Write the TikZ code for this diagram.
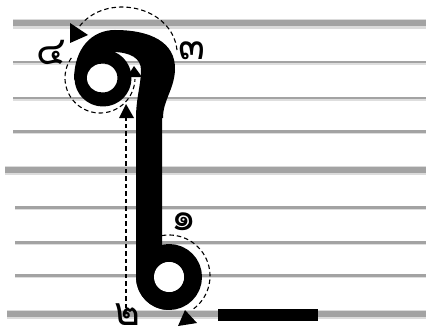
\documentclass[tikz,border=0pt]{standalone}
\usepackage{fontspec}
\newfontfamily\thaifont[Script=Thai]{Loma}
\usetikzlibrary{calc}

\begin{document}
\begin{tikzpicture}[x=1mm, y=-1mm, line join=round,
  guide/.style={line width=1.1mm, dash pattern=on 4.5mm off 3mm},
  tipmark/.style={fill=black},
  numlabel/.style={font=\thaifont\fontsize{112}{112}\selectfont, inner sep=0pt, text depth=0pt, anchor=base}]
 \useasboundingbox[fill=white] (0,0) rectangle (426,331);
 % Ruled lines
 \foreach \y/\xs in {62/13, 98/13, 131.5/13, 207.5/15, 242.5/15, 275.5/15} {
  \draw[line width=4mm, black!13] (\xs,\y+0.8) -- (426,\y+0.8);
  \draw[line width=2.2mm, black!36] (\xs,\y) -- (426,\y);
 }
 \foreach \y/\xs in {23/13, 169.5/5, 313.5/7} {
  \draw[line width=9.5mm, black!14] (\xs,\y+1) -- (426,\y+1);
  \draw[line width=6mm, black!36] (\xs,\y) -- (426,\y);
 }
 % Guide strokes
 \def\r{41}
 \draw[guide] plot[domain=-100:55, samples=80, variable=\t] ({169+\r*cos(\t)}, {276+\r*sin(\t)});
 \coordinate (s2a) at (126,308);
 \coordinate (s2b) at (126,118);
 \draw[guide] (s2a) -- (s2b);
 \draw[guide] plot[domain=145:358, samples=80, variable=\t] ({100+35*cos(\t)}, {78-35*sin(\t)});
 \draw[guide] (177,50) .. controls (172,5) and (105,-8) .. (79,27);
 % Letter
 \fill (74,80) .. controls (74,48) and (92,30) .. (115,30)
  .. controls (150,30) and (176,42) .. (175,70)
  .. controls (174,90) and (163,100) .. (163,118) -- (136,118)
  .. controls (136,98) and (141,85) .. (141,70)
  .. controls (141,58) and (130,52) .. (112,52) -- cycle;
 \draw[line width=14mm] (103,78) circle (21.5);
 \draw[line width=26mm] (149,115) -- (149,277) .. controls (149,288) and (158,297) .. (169,297);
 \draw[line width=18mm] (169,277) circle (24);
 \fill[white] (101,78) circle (14);
 \fill[white] (169,277) circle (15);
 % Base bar
 \fill (218,309) rectangle (318,321);
 % Arrow heads
 \fill[tipmark] (134,66) -- (127,77) -- (142,77) -- cycle;
 \fill[tipmark] (126,104) -- (119,118) -- (134,118) -- cycle;
 \fill[tipmark] (70,23) -- (70,43) -- (88,35) -- cycle;
 \fill[tipmark] (185,310) -- (178,326) -- (197,323) -- cycle;
 % Labels
 \node[numlabel] (n1) at (184,230) {๑};
 \node[numlabel] (n2) at (127,325) {๒};
 \node[numlabel] (n3) at (192,60) {๓};
 \node[numlabel] (n4) at (51,65) {๔};
\end{tikzpicture}
\end{document}
